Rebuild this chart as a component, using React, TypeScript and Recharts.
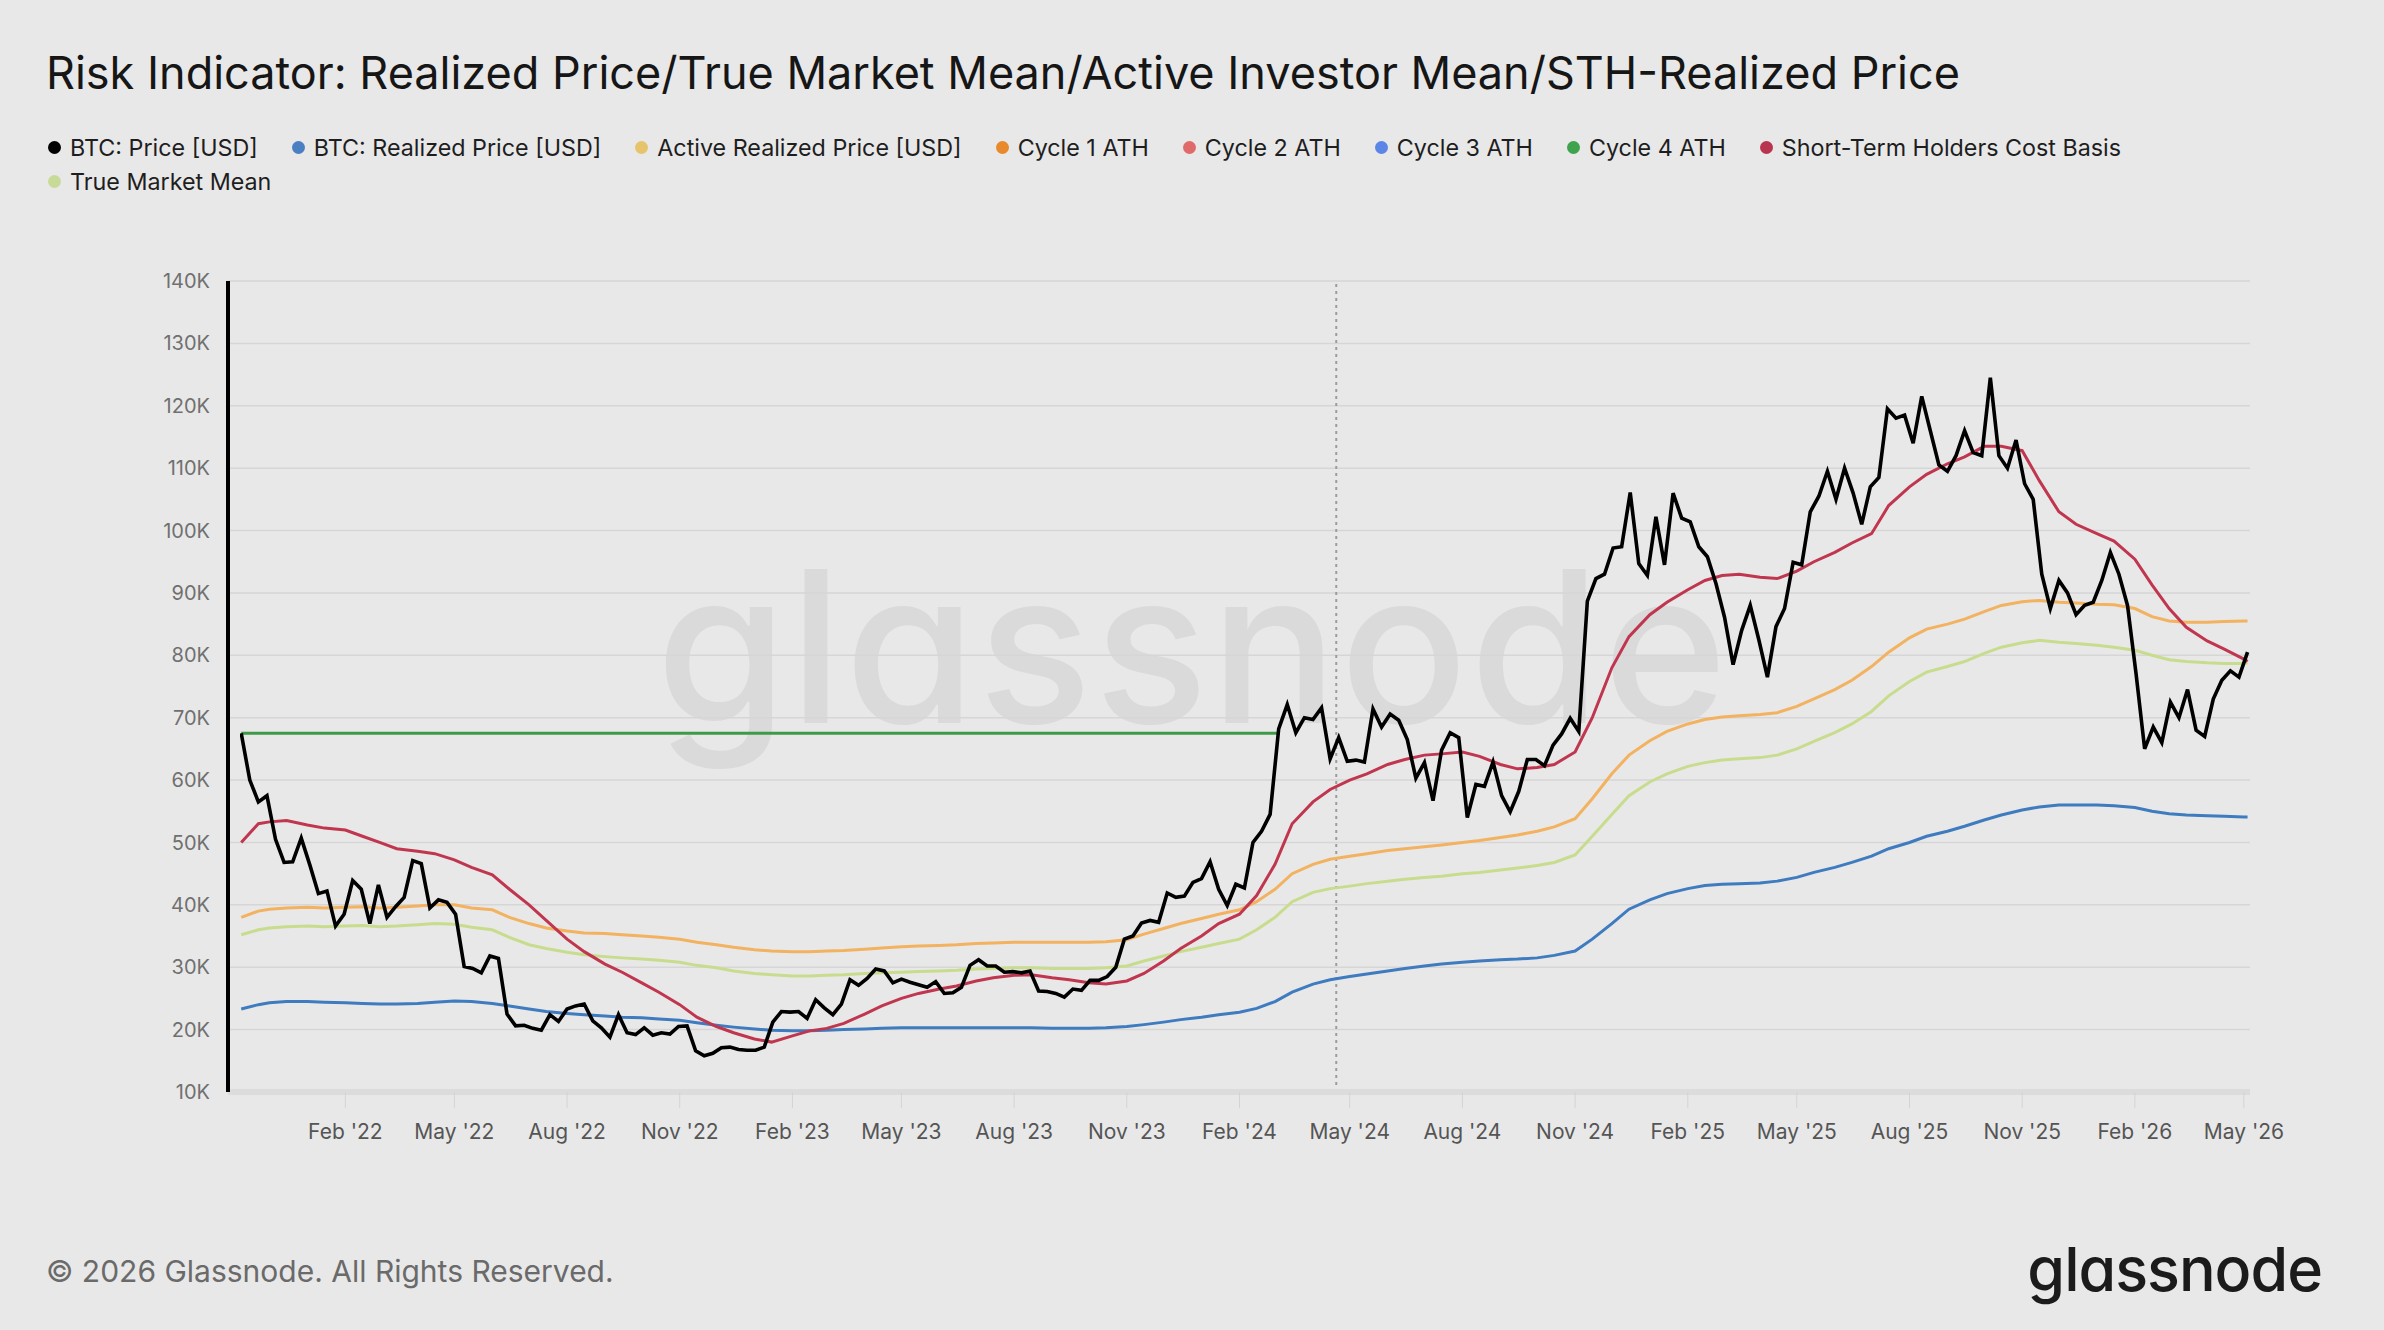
import { CartesianGrid, Line, LineChart, ReferenceLine, XAxis, YAxis } from "recharts";

// BTC price [USD, thousands], one value per week starting 2021-11-08
const PRICE_START = "2021-11-08";
const btcPrice = [
  // 2021
  67.5, 60.0, 56.5, 57.5, 50.5, 46.8, 46.9, 50.7,
  // 2022
  46.4, 41.8, 42.2, 36.6, 38.5, 43.9, 42.5, 37.0, 43.2, 38.0, 39.7, 41.2, 47.1,
  46.6, 39.5, 40.8, 40.4, 38.5, 30.1, 29.8, 29.1, 31.8, 31.4, 22.5, 20.6, 20.7,
  20.2, 19.9, 22.4, 21.3, 23.3, 23.8, 24.1, 21.4, 20.3, 18.8, 22.4, 19.5, 19.2,
  20.3, 19.1, 19.5, 19.3, 20.5, 20.6, 16.6, 15.8, 16.2, 17.1, 17.2, 16.8, 16.7,
  // 2023
  16.7, 17.2, 21.2, 22.9, 22.8, 22.9, 21.8, 24.8, 23.5, 22.4, 24.1, 28.0, 27.1,
  28.2, 29.7, 29.4, 27.5, 28.1, 27.6, 27.2, 26.8, 27.7, 25.8, 25.9, 26.8, 30.3,
  31.2, 30.2, 30.2, 29.2, 29.3, 29.1, 29.4, 26.2, 26.1, 25.8, 25.2, 26.5, 26.3,
  27.9, 27.9, 28.5, 30.0, 34.5, 35.0, 37.1, 37.5, 37.2, 41.9, 41.2, 41.4, 43.6,
  // 2024
  44.2, 46.9, 42.5, 39.9, 43.3, 42.7, 50.0, 51.8, 54.5, 68.2, 72.1, 67.6, 70.0,
  69.7, 71.6, 63.4, 66.8, 63.0, 63.2, 62.9, 71.4, 68.5, 70.6, 69.6, 66.5, 60.3,
  62.8, 56.7, 64.8, 67.6, 66.8, 54.0, 59.3, 59.0, 62.9, 57.5, 54.9, 58.2, 63.3,
  63.3, 62.3, 65.6, 67.4, 69.9, 67.8, 88.7, 92.3, 93.0, 97.2, 97.4, 106.1, 94.7,
  92.8,
  // 2025
  102.2, 94.5, 106.0, 102.0, 101.4, 97.4, 95.8, 91.5, 86.1, 78.5, 84.0, 88.0, 82.5,
  76.5, 84.6, 87.5, 94.9, 94.5, 103.0, 105.5, 109.5, 105.0, 110.0, 106.0, 101.0,
  107.0, 108.5, 119.5, 118.0, 118.5, 114.0, 121.5, 116.0, 110.5, 109.5, 112.0,
  116.0, 112.5, 112.0, 124.5, 112.0, 110.0, 114.5, 107.5, 105.0, 93.0, 87.5, 92.0,
  90.0, 86.5, 88.0, 88.5,
  // 2026
  92.0, 96.5, 93.0, 88.0, 77.0, 65.0, 68.5, 66.0, 72.5, 70.0, 74.5, 68.0, 67.0,
  73.0, 76.0, 77.5, 76.5, 80.5,
];

// on-chain series [USD, thousands] on the 1st and 15th of each month
const realizedPrice = [
  23.3, 24.0, 24.3, 24.5, 24.5, 24.4, 24.3, 24.2, 24.1, 24.1,
  24.2, 24.4, 24.6, 24.5, 24.2, 23.8, 23.3, 22.9, 22.6, 22.4,
  22.2, 22.0, 21.9, 21.7, 21.5, 21.1, 20.7, 20.4, 20.1, 19.9,
  19.8, 19.8, 19.9, 20.0, 20.1, 20.2, 20.3, 20.3, 20.3, 20.3,
  20.3, 20.3, 20.3, 20.3, 20.2, 20.2, 20.2, 20.3, 20.5, 20.8,
  21.2, 21.6, 22.0, 22.4, 22.8, 23.4, 24.5, 26.0, 27.3, 28.0,
  28.5, 28.9, 29.4, 29.8, 30.2, 30.5, 30.8, 31.0, 31.2, 31.3,
  31.5, 31.9, 32.6, 34.5, 37.0, 39.3, 40.8, 41.8, 42.6, 43.1,
  43.3, 43.4, 43.5, 43.8, 44.4, 45.2, 46.0, 46.8, 47.8, 49.0,
  50.0, 51.0, 51.8, 52.6, 53.6, 54.4, 55.2, 55.7, 56.0, 56.0,
  56.0, 55.9, 55.6, 55.0, 54.6, 54.4, 54.3, 54.2, 54.1, 54.1,
];

const activeRealizedPrice = [
  38.0, 39.0, 39.3, 39.5, 39.6, 39.5, 39.6, 39.7, 39.5, 39.6,
  39.8, 40.0, 40.0, 39.5, 39.2, 38.0, 37.0, 36.3, 35.8, 35.5,
  35.4, 35.2, 35.0, 34.8, 34.5, 34.0, 33.6, 33.2, 32.8, 32.6,
  32.5, 32.5, 32.6, 32.7, 32.9, 33.1, 33.3, 33.4, 33.5, 33.6,
  33.8, 33.9, 34.0, 34.0, 34.0, 34.0, 34.0, 34.1, 34.4, 35.3,
  36.2, 37.0, 37.8, 38.5, 39.2, 40.5, 42.5, 45.0, 46.5, 47.3,
  47.8, 48.2, 48.7, 49.0, 49.3, 49.6, 50.0, 50.3, 50.8, 51.2,
  51.8, 52.5, 53.8, 57.0, 61.0, 64.0, 66.3, 67.8, 69.0, 69.7,
  70.1, 70.3, 70.5, 70.8, 71.8, 73.0, 74.5, 76.0, 78.2, 80.5,
  82.8, 84.2, 85.0, 85.8, 87.0, 88.0, 88.6, 88.8, 88.5, 88.4,
  88.2, 88.1, 87.5, 86.2, 85.5, 85.3, 85.3, 85.4, 85.5, 85.5,
];

const trueMarketMean = [
  35.2, 36.0, 36.3, 36.5, 36.6, 36.5, 36.6, 36.7, 36.5, 36.6,
  36.8, 37.0, 36.9, 36.4, 36.0, 34.8, 33.6, 33.0, 32.4, 32.0,
  31.7, 31.5, 31.3, 31.1, 30.8, 30.3, 29.9, 29.4, 29.0, 28.8,
  28.6, 28.6, 28.7, 28.8, 29.0, 29.1, 29.2, 29.3, 29.4, 29.5,
  29.7, 29.8, 29.9, 29.9, 29.8, 29.8, 29.8, 29.9, 30.2, 31.0,
  31.8, 32.5, 33.2, 33.8, 34.5, 36.0, 38.0, 40.5, 42.0, 42.6,
  43.0, 43.4, 43.8, 44.1, 44.4, 44.6, 45.0, 45.2, 45.6, 45.9,
  46.3, 46.8, 48.0, 51.0, 54.5, 57.5, 59.7, 61.0, 62.2, 62.8,
  63.2, 63.4, 63.6, 64.0, 65.0, 66.2, 67.6, 69.0, 71.0, 73.5,
  75.8, 77.3, 78.2, 79.0, 80.3, 81.3, 82.0, 82.4, 82.1, 81.9,
  81.6, 81.3, 80.8, 80.0, 79.3, 79.0, 78.8, 78.7, 78.7, 78.8,
];

const sthCostBasis = [
  50.0, 53.0, 53.3, 53.5, 52.8, 52.3, 52.0, 51.0, 50.0, 49.0,
  48.6, 48.2, 47.2, 46.0, 44.8, 42.5, 40.0, 37.5, 34.5, 32.5,
  30.5, 29.2, 27.5, 26.0, 24.0, 22.0, 20.5, 19.5, 18.5, 18.0,
  19.0, 19.8, 20.2, 21.0, 22.5, 23.8, 25.0, 25.8, 26.5, 27.0,
  27.8, 28.3, 28.7, 28.8, 28.3, 28.0, 27.5, 27.3, 27.8, 29.0,
  31.0, 33.0, 35.0, 37.0, 38.5, 41.5, 46.5, 53.0, 56.5, 58.5,
  60.0, 61.0, 62.5, 63.3, 64.0, 64.2, 64.5, 63.8, 62.5, 61.8,
  62.0, 62.5, 64.5, 70.0, 78.0, 83.0, 86.5, 88.5, 90.5, 92.0,
  92.8, 93.0, 92.5, 92.3, 93.5, 95.0, 96.5, 98.0, 99.5, 104.0,
  107.0, 109.0, 110.7, 111.8, 113.5, 113.5, 112.8, 108.0, 103.0, 101.0,
  99.5, 98.3, 95.4, 91.3, 87.5, 84.5, 82.3, 81.0, 79.4, 79.0,
];

const cycle4Ath = { from: "2021-11-08", to: "2024-03-04", value: 67.5 };
const halvingDate = "2024-04-20";

const xTickDates = [
  "2022-02-01", "2022-05-01", "2022-08-01", "2022-11-01",
  "2023-02-01", "2023-05-01", "2023-08-01", "2023-11-01",
  "2024-02-01", "2024-05-01", "2024-08-01", "2024-11-01",
  "2025-02-01", "2025-05-01", "2025-08-01", "2025-11-01",
  "2026-02-01", "2026-05-01",
];
const yTicks = [10, 20, 30, 40, 50, 60, 70, 80, 90, 100, 110, 120, 130, 140];
const MONTHS = ["Jan", "Feb", "Mar", "Apr", "May", "Jun", "Jul", "Aug", "Sep", "Oct", "Nov", "Dec"];

const legendRows = [
  [
    { name: "BTC: Price [USD]", color: "#000000" },
    { name: "BTC: Realized Price [USD]", color: "#4a7fc1" },
    { name: "Active Realized Price [USD]", color: "#e6c46c" },
    { name: "Cycle 1 ATH", color: "#e8892c" },
    { name: "Cycle 2 ATH", color: "#e06a6a" },
    { name: "Cycle 3 ATH", color: "#5b86e6" },
    { name: "Cycle 4 ATH", color: "#3fa24c" },
    { name: "Short-Term Holders Cost Basis", color: "#b8344f" },
  ],
  [{ name: "True Market Mean", color: "#c8da98" }],
];

const DAY = 86400000;
const ts = (iso: string) => Date.parse(iso + "T00:00:00Z");

const smoothDates: number[] = [ts("2021-11-08"), ts("2021-11-22")];
for (let y = 2021; y <= 2026; y++) {
  for (let m = 0; m < 12; m++) {
    if ((y === 2021 && m < 11) || (y === 2026 && m > 3)) continue;
    smoothDates.push(Date.UTC(y, m, 1), Date.UTC(y, m, 15));
  }
}
smoothDates.push(ts("2026-05-01"), ts("2026-05-04"));

const toSeries = (values: number[]) => values.map((v, i) => ({ t: smoothDates[i], v }));
const priceData = btcPrice.map((v, i) => ({ t: ts(PRICE_START) + i * 7 * DAY, v }));
const athData = [
  { t: ts(cycle4Ath.from), v: cycle4Ath.value },
  { t: ts(cycle4Ath.to), v: cycle4Ath.value },
];

const formatDate = (t: number) => {
  const d = new Date(t);
  return `${MONTHS[d.getUTCMonth()]} '${String(d.getUTCFullYear()).slice(2)}`;
};

const FONT = "Inter, 'Noto Sans', sans-serif";

export default function App() {
  return (
    <div
      style={{
        position: "absolute",
        left: 0,
        top: 0,
        width: 2384,
        height: 1330,
        background: "#e8e8e8",
        overflow: "hidden",
        fontFamily: FONT,
      }}
    >
      <div
        style={{
          position: "absolute",
          left: 46,
          top: 50,
          fontSize: 45,
          lineHeight: 1,
          color: "#161616",
          whiteSpace: "nowrap",
        }}
      >
        Risk Indicator: Realized Price/True Market Mean/Active Investor Mean/STH-Realized Price
      </div>

      <div style={{ position: "absolute", left: 48, top: 130 }}>
        {legendRows.map((row, r) => (
          <div key={r} style={{ display: "flex", height: 34, alignItems: "center", gap: 34 }}>
            {row.map((item) => (
              <div key={item.name} style={{ display: "flex", alignItems: "center", gap: 9 }}>
                <span
                  style={{ width: 13, height: 13, borderRadius: "50%", background: item.color, display: "inline-block" }}
                />
                <span style={{ fontSize: 23.3, color: "#1e1e1e", whiteSpace: "nowrap" }}>{item.name}</span>
              </div>
            ))}
          </div>
        ))}
      </div>

      {/* watermark */}
      <div
        style={{
          position: "absolute",
          left: 656,
          top: 540,
          fontSize: 212,
          lineHeight: 1,
          fontWeight: 500,
          color: "#dadada",
          letterSpacing: 2,
          fontFeatureSettings: '"cv11"',
        }}
      >
        glassnode
      </div>

      <div style={{ position: "absolute", left: 0, top: 0 }}>
        <LineChart width={2384} height={1200} margin={{ top: 281, right: 134, bottom: 0, left: 0 }}>
          <CartesianGrid vertical={false} stroke="#d6d6d6" strokeWidth={1.5} />
          <XAxis
            dataKey="t"
            type="number"
            domain={[ts("2021-11-07"), ts("2026-05-06")]}
            allowDataOverflow
            padding={{ left: 12, right: 0 }}
            ticks={xTickDates.map(ts)}
            tickFormatter={formatDate}
            height={108}
            tickSize={16}
            tickMargin={16}
            tickLine={{ stroke: "#d4d4d4" }}
            axisLine={{ stroke: "#dcdcdc", strokeWidth: 6 }}
            tick={{ fontSize: 21, fill: "#555", fontFamily: FONT }}
            interval={0}
          />
          <YAxis
            type="number"
            domain={[10, 140]}
            ticks={yTicks}
            tickFormatter={(v: number) => `${v}K`}
            width={228}
            tickLine={false}
            tickSize={0}
            tickMargin={18}
            axisLine={{ stroke: "#000", strokeWidth: 4 }}
            tick={{ fontSize: 20, fill: "#707070", fontFamily: FONT }}
            interval={0}
          />
          <ReferenceLine y={10} stroke="#b8b8b8" strokeWidth={3} strokeDasharray="2 6" />
          <ReferenceLine x={ts(halvingDate)} stroke="#9c9c9c" strokeWidth={2} strokeDasharray="3 4" />
          <Line data={toSeries(realizedPrice)} dataKey="v" stroke="#3e7bbf" strokeWidth={3} dot={false} isAnimationActive={false} />
          <Line data={toSeries(activeRealizedPrice)} dataKey="v" stroke="#f2b260" strokeWidth={3} dot={false} isAnimationActive={false} />
          <Line data={toSeries(trueMarketMean)} dataKey="v" stroke="#c8dc8e" strokeWidth={3} dot={false} isAnimationActive={false} />
          <Line data={athData} dataKey="v" stroke="#3d9b47" strokeWidth={3} dot={false} isAnimationActive={false} />
          <Line data={toSeries(sthCostBasis)} dataKey="v" stroke="#c0364f" strokeWidth={3} dot={false} isAnimationActive={false} />
          <Line data={priceData} dataKey="v" stroke="#000" strokeWidth={3.6} dot={false} isAnimationActive={false} />
        </LineChart>
      </div>

      <div style={{ position: "absolute", left: 46, top: 1256, fontSize: 30, lineHeight: 1, color: "#6a6a6a" }}>
        © 2026 Glassnode. All Rights Reserved.
      </div>
      <div
        style={{
          position: "absolute",
          right: 62,
          top: 1239,
          fontSize: 61,
          lineHeight: 1,
          fontWeight: 500,
          color: "#1b1b1b",
          letterSpacing: -1,
          fontFeatureSettings: '"cv11"',
        }}
      >
        glassnode
      </div>
    </div>
  );
}
